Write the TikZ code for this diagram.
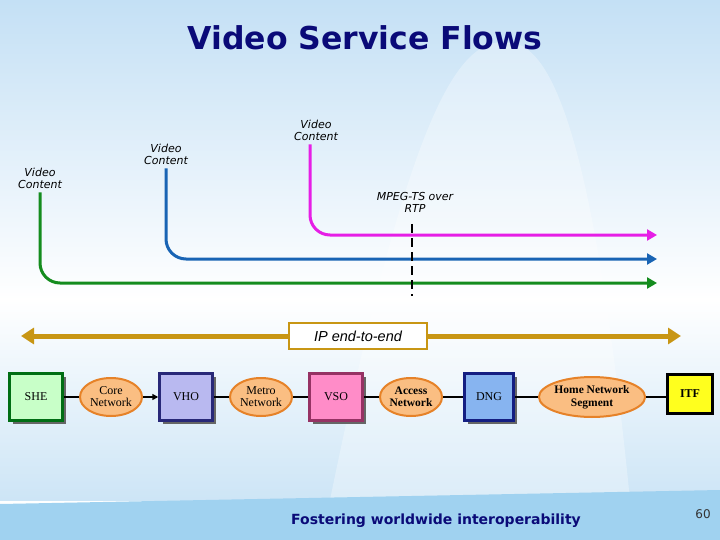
\documentclass[tikz,border=0pt]{standalone}
\usepackage{fontspec}
\setmainfont{Liberation Serif}
\newfontfamily\dejavu{DejaVu Sans}
\newfontfamily\libsans{Liberation Sans}
\usetikzlibrary{arrows.meta,shadows,shapes.geometric}
\definecolor{bgtop}{RGB}{196,224,245}
\definecolor{bgmid}{RGB}{205,229,246}
\definecolor{bgband}{RGB}{160,210,240}
\definecolor{navy}{RGB}{10,10,120}
\definecolor{flowgreen}{RGB}{20,140,30}
\definecolor{flowblue}{RGB}{25,100,180}
\definecolor{flowmag}{RGB}{230,30,230}
\definecolor{gold}{RGB}{200,150,20}
\definecolor{orfill}{RGB}{250,190,130}
\definecolor{ordraw}{RGB}{230,130,40}
\definecolor{shefill}{RGB}{200,255,200}
\definecolor{shedraw}{RGB}{0,110,20}
\definecolor{vhofill}{RGB}{185,185,240}
\definecolor{vhodraw}{RGB}{40,40,120}
\definecolor{vsofill}{RGB}{255,140,200}
\definecolor{vsodraw}{RGB}{150,50,100}
\definecolor{dngfill}{RGB}{135,180,240}
\definecolor{dngdraw}{RGB}{20,30,130}
\definecolor{itffill}{RGB}{255,255,30}
\tikzset{
  vclabel/.style={font=\dejavu\itshape\fontsize{11}{12}\selectfont, align=center, inner sep=1pt, text=black},
  flow/.style={line width=3pt, rounded corners=20pt, -{Triangle[length=10pt,width=11pt]}},
  sitebox/.style={rectangle, line width=2.5pt, minimum height=47pt, font=\fontsize{12}{13}\selectfont, drop shadow={shadow xshift=3pt, shadow yshift=-3pt, fill=black!60, opacity=1}},
  netell/.style={ellipse, fill=orfill, draw=ordraw, line width=2pt, align=center, inner sep=0pt, font=\fontsize{12}{12}\selectfont},
  link/.style={line width=2.5pt, black}
}
\begin{document}
\begin{tikzpicture}[x=1pt,y=-1pt]
\useasboundingbox (0,0) rectangle (720,540);
% background
\shade[top color=bgtop, bottom color=white] (0,0) rectangle (720,300);
\shade[top color=white, bottom color=bgmid] (0,300) rectangle (720,500);
\fill[white, opacity=0.3] (330,500) .. controls (420,60) and (470,30) .. (520,45) .. controls (565,65) and (600,200) .. (630,500) -- cycle;
\fill[bgband] (0,504) -- (720,490) -- (720,540) -- (0,540) -- cycle;
% title
\node[font=\dejavu\bfseries\fontsize{31.5}{34}\selectfont, text=navy] (title) at (365,38) {Video Service Flows};
% video content labels
\node[vclabel] (vc1) at (40,178) {Video\\Content};
\node[vclabel] (vc2) at (166,154) {Video\\Content};
\node[vclabel] (vc3) at (316,130) {Video\\Content};
\coordinate (gend) at (657,283);
\coordinate (bend) at (657,259);
\coordinate (mend) at (657,235);
\draw[flow, flowgreen] ([yshift=-3pt]vc1.south -| 40,0) |- (gend);
\draw[flow, flowblue] ([yshift=-3pt]vc2.south -| 166,0) |- (bend);
\draw[flow, flowmag] ([yshift=-3pt]vc3.south -| 310,0) |- (mend);
% MPEG label and dashed line
\node[vclabel] (mpeg) at (415,202) {MPEG-TS over\\RTP};
\coordinate (dtop) at (412,224);
\coordinate (dbot) at (412,296);
\draw[line width=2pt, dash pattern=on 9pt off 5pt] (dtop) -- (dbot);
% IP end-to-end
\coordinate (ipl) at (21,336);
\coordinate (ipr) at (681,336);
\draw[gold, line width=5pt, {Triangle[length=13pt,width=16pt]}-{Triangle[length=13pt,width=16pt]}] (ipl) -- (ipr);
\node[draw=gold, fill=white, line width=2pt, minimum width=138pt, minimum height=26pt, font=\libsans\itshape\fontsize{14.5}{15}\selectfont] (ip) at (358,336) {IP end-to-end};
% bottom row
\node[sitebox, fill=shefill, draw=shedraw, minimum width=53pt] (she) at (36,397) {SHE};
\node[netell, minimum width=62pt, minimum height=38pt] (core) at (111,397) {Core\\Network};
\node[sitebox, fill=vhofill, draw=vhodraw, minimum width=53pt] (vho) at (186,397) {VHO};
\node[netell, minimum width=62pt, minimum height=38pt] (metro) at (261,397) {Metro\\Network};
\node[sitebox, fill=vsofill, draw=vsodraw, minimum width=53pt] (vso) at (336,397) {VSO};
\node[netell, minimum width=62pt, minimum height=38pt, font=\bfseries\fontsize{11.5}{12}\selectfont] (access) at (411,397) {Access\\Network};
\node[sitebox, fill=dngfill, draw=dngdraw, minimum width=49pt] (dng) at (489,397) {DNG};
\node[netell, minimum width=101pt, minimum height=40pt, font=\bfseries\fontsize{11.5}{13}\selectfont] (home) at (592,397) {Home Network\\Segment};
\node[rectangle, fill=itffill, draw=black, line width=2.5pt, minimum width=45pt, minimum height=39pt, font=\bfseries\fontsize{12}{13}\selectfont] (itf) at (690,394) {ITF};
\draw[link] (she) -- (core);
\draw[link, -{Triangle[length=6pt,width=6pt]}] (core) -- (vho);
\draw[link] (vho) -- (metro);
\draw[link] (metro) -- (vso);
\draw[link] (vso) -- (access);
\draw[link] (access) -- (dng);
\draw[link] (dng) -- (home);
\draw[link] (home.east) -- (home.east -| itf.west);
% footer
\node[font=\dejavu\bfseries\fontsize{14}{16}\selectfont, text=navy] (foot) at (436,521) {Fostering worldwide interoperability};
\node[font=\dejavu\fontsize{12}{14}\selectfont, text=black!80] (page) at (703,514) {60};
\end{tikzpicture}
\end{document}
